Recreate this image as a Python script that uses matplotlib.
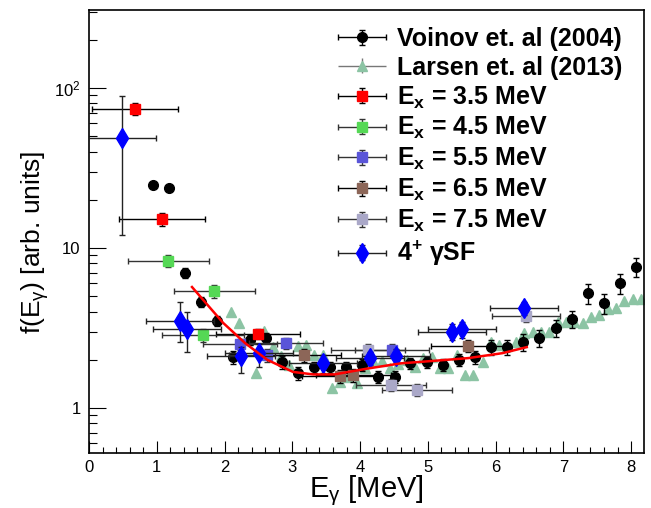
import numpy as np
import matplotlib
matplotlib.use("Agg")
import matplotlib.pyplot as plt
from matplotlib.ticker import FixedLocator, FixedFormatter, LogLocator, MultipleLocator, NullFormatter
from matplotlib.container import ErrorbarContainer
from matplotlib.legend_handler import HandlerErrorbar

plt.rcParams['font.family'] = ['Liberation Sans', 'DejaVu Sans']
plt.rcParams['mathtext.fontset'] = 'custom'
plt.rcParams['mathtext.rm'] = 'Liberation Sans'
plt.rcParams['mathtext.it'] = 'Liberation Sans:italic'
plt.rcParams['mathtext.bf'] = 'Liberation Sans:bold'

# Voinov et al. (2004)
voinov_e = [0.95, 1.18, 1.42, 1.65, 1.89, 2.13, 2.38, 2.61, 2.85, 3.08, 3.32, 3.56, 3.79,
            4.03, 4.27, 4.51, 4.74, 4.99, 5.23, 5.46, 5.70, 5.93, 6.17, 6.41, 6.64, 6.89,
            7.13, 7.37, 7.60, 7.84, 8.07]
voinov_f = [24.8, 23.7, 7.0, 4.6, 3.5, 2.08, 2.66, 2.74, 1.94, 1.65, 1.8, 1.8, 1.8,
            1.86, 1.56, 1.56, 1.91, 1.94, 1.86, 2.0, 2.08, 2.4, 2.4, 2.58, 2.74, 3.16,
            3.6, 5.23, 4.53, 6.04, 7.6]
voinov_err = [0, 0, 0.5, 0.35, 0.25, 0.2, 0.2, 0.2, 0.18, 0.15, 0.15, 0.15, 0.15,
              0.15, 0.13, 0.13, 0.15, 0.15, 0.17, 0.18, 0.2, 0.25, 0.25, 0.3, 0.35, 0.4,
              0.45, 0.75, 0.65, 0.85, 1.0]

# Larsen et al. (2013)
larsen_e = [2.10, 2.21, 2.35, 2.46, 2.58, 2.71, 2.83, 2.95, 3.08, 3.20, 3.32, 3.45, 3.58,
            3.70, 3.82, 3.95, 4.07, 4.19, 4.32, 4.44, 4.56, 4.69, 4.81, 4.93, 5.06, 5.18,
            5.30, 5.43, 5.55, 5.67, 5.81, 5.93, 6.05, 6.17, 6.30, 6.42, 6.55, 6.67, 6.79,
            6.92, 7.04, 7.16, 7.29, 7.41, 7.53, 7.66, 7.78, 7.90, 8.03, 8.15]
larsen_f = [3.98, 3.39, 2.66, 1.65, 3.03, 2.4, 2.11, 1.86, 2.44, 2.48, 2.14, 2.14, 1.33,
            1.45, 1.56, 1.43, 1.78, 1.97, 1.97, 1.78, 1.88, 2.0, 1.8, 2.05, 2.08, 1.78,
            1.78, 2.14, 1.61, 1.61, 1.94, 2.58, 2.48, 2.44, 2.58, 2.94, 2.98, 2.98, 2.98,
            3.45, 3.45, 3.45, 3.4, 3.7, 3.8, 4.16, 4.2, 4.66, 4.8, 4.8]

# Ex bins
ex35_e = [0.68, 1.08, 2.49]
ex35_f = [74, 15.2, 2.9]
ex35_xerr = [0.64, 0.63, 0.62]
ex35_yerr = [6, 1.4, 0.2]

ex45_e = [1.17, 1.68, 1.85]
ex45_f = [8.3, 2.85, 5.4]
ex45_xerr = [0.6, 0.6, 0.6]
ex45_yerr = [0.7, 0.25, 0.5]

ex55_e = [2.23, 2.62, 2.91, 4.47]
ex55_f = [2.5, 2.15, 2.55, 2.3]
ex55_xerr = [0.55, 0.55, 0.55, 0.55]
ex55_yerr = [0.2, 0.2, 0.2, 0.2]

ex65_e = [3.17, 3.70, 3.90, 5.59]
ex65_f = [2.15, 1.58, 1.6, 2.45]
ex65_xerr = [0.55, 0.55, 0.55, 0.54]
ex65_yerr = [0.2, 0.15, 0.15, 0.2]

ex75_e = [4.12, 4.46, 4.84, 6.45]
ex75_f = [2.3, 1.4, 1.3, 3.75]
ex75_xerr = [0.55, 0.52, 0.51, 0.5]
ex75_yerr = [0.2, 0.12, 0.12, 0.3]

# 4+ gamma SF
g4_e = [0.49, 1.34, 1.45, 2.24, 2.51, 3.45, 4.15, 4.53, 5.36, 5.50, 6.42]
g4_f = [49, 3.5, 3.1, 2.1, 2.2, 1.9, 2.05, 2.12, 3.0, 3.1, 4.2]
g4_xerr = [0.5, 0.5, 0.5, 0.5, 0.5, 0.5, 0.5, 0.5, 0.5, 0.5, 0.5]
g4_lo = [37, 0.9, 0.85, 0.45, 0.4, 0.25, 0.2, 0.2, 0.35, 0.35, 0.4]
g4_hi = [40, 1.1, 0.9, 0.3, 0.3, 0.25, 0.2, 0.2, 0.35, 0.35, 0.4]

# fit curve
fit_e = [1.52, 1.75, 1.98, 2.3, 2.63, 3.01, 3.31, 3.62, 4.1, 4.6, 5.09, 5.6, 6.1, 6.46]
fit_f = [5.7, 4.4, 3.4, 2.55, 2.0, 1.68, 1.62, 1.62, 1.76, 1.9, 1.97, 2.05, 2.2, 2.4]

fig = plt.figure(figsize=(6.51, 5.08), dpi=100)
ax = fig.add_axes([89 / 651, 1 - 453 / 508, (644 - 89) / 651, (453 - 10) / 508])

kw = dict(linestyle='none', capsize=2, elinewidth=1, capthick=1)

h_v = ax.errorbar(voinov_e, voinov_f, yerr=voinov_err, xerr=np.zeros(len(voinov_e)),
                  fmt='o', ms=7, color='black', ecolor='black', zorder=3, **kw)
h_l = ax.errorbar(larsen_e, larsen_f, yerr=np.zeros(len(larsen_e)), xerr=np.zeros(len(larsen_e)),
                  fmt='^', ms=7.5, color='#8cc4a4', ecolor='#777777', zorder=2,
                  linestyle='none', capsize=0, elinewidth=1)
h_35 = ax.errorbar(ex35_e, ex35_f, yerr=ex35_yerr, xerr=ex35_xerr, fmt='s', ms=7,
                   color='#ff0000', ecolor='black', zorder=4, **kw)
h_45 = ax.errorbar(ex45_e, ex45_f, yerr=ex45_yerr, xerr=ex45_xerr, fmt='s', ms=7,
                   color='#55d855', ecolor='#333333', zorder=4, **kw)
h_55 = ax.errorbar(ex55_e, ex55_f, yerr=ex55_yerr, xerr=ex55_xerr, fmt='s', ms=7,
                   color='#5a55d8', ecolor='#333333', zorder=4, **kw)
h_65 = ax.errorbar(ex65_e, ex65_f, yerr=ex65_yerr, xerr=ex65_xerr, fmt='s', ms=7,
                   color='#8c6658', ecolor='black', zorder=4, **kw)
h_75 = ax.errorbar(ex75_e, ex75_f, yerr=ex75_yerr, xerr=ex75_xerr, fmt='s', ms=7,
                   color='#aaa8c8', ecolor='#333333', zorder=4, **kw)
h_g4 = ax.errorbar(g4_e, g4_f, yerr=[g4_lo, g4_hi], xerr=g4_xerr, fmt='d', ms=10,
                   color='#0000ff', ecolor='#222222', zorder=5, **kw)
ax.plot(fit_e, fit_f, color='#ff0000', lw=1.8, zorder=6)

ax.set_yscale('log')
ax.set_xlim(0, 8.19)
ax.set_ylim(0.523, 307)

ax.yaxis.set_major_locator(FixedLocator([1, 10, 100]))
ax.yaxis.set_major_formatter(FixedFormatter(['1', '10', r'$10^{2}$']))
ax.yaxis.set_minor_locator(LogLocator(base=10, subs=np.arange(2, 10)))
ax.yaxis.set_minor_formatter(NullFormatter())
ax.xaxis.set_major_locator(MultipleLocator(1))
ax.xaxis.set_minor_locator(MultipleLocator(0.2))

ax.tick_params(which='both', direction='in', top=False, right=False, width=0.8, labelsize=12)
ax.tick_params(axis='x', which='major', length=9, pad=5)
ax.tick_params(axis='x', which='minor', length=4.5)
ax.tick_params(axis='y', which='major', length=12, pad=6)
ax.tick_params(axis='y', which='minor', length=5.5)
for s in ax.spines.values():
    s.set_linewidth(1.2)

ax.set_xlabel(r'E$_{\mathrm{γ}}$ [MeV]', fontsize=21, labelpad=-1)
ax.set_ylabel(r'f(E$_{\mathrm{γ}}$) [arb. units]', fontsize=19)
ax.yaxis.set_label_coords(-0.068, 0.476)

labels = ['Voinov et. al (2004)', 'Larsen et. al (2013)',
          r'$\mathbf{E_{x}}$ = 3.5 MeV', r'$\mathbf{E_{x}}$ = 4.5 MeV',
          r'$\mathbf{E_{x}}$ = 5.5 MeV', r'$\mathbf{E_{x}}$ = 6.5 MeV',
          r'$\mathbf{E_{x}}$ = 7.5 MeV', r'$\mathbf{4^{+}}$ γSF']
handles = [h_v, h_l, h_35, h_45, h_55, h_65, h_75, h_g4]
ax.legend(handles, labels, loc='upper left', bbox_to_anchor=(0.449, 0.962),
          frameon=False, borderpad=0, borderaxespad=0, numpoints=1,
          handlelength=1.9, handletextpad=0.45, labelspacing=0.19,
          prop=dict(family='Liberation Sans', weight='bold', size=18),
          handler_map={ErrorbarContainer: HandlerErrorbar(xerr_size=0.95, yerr_size=0.3)})

fig.savefig('out.png', dpi=100)
